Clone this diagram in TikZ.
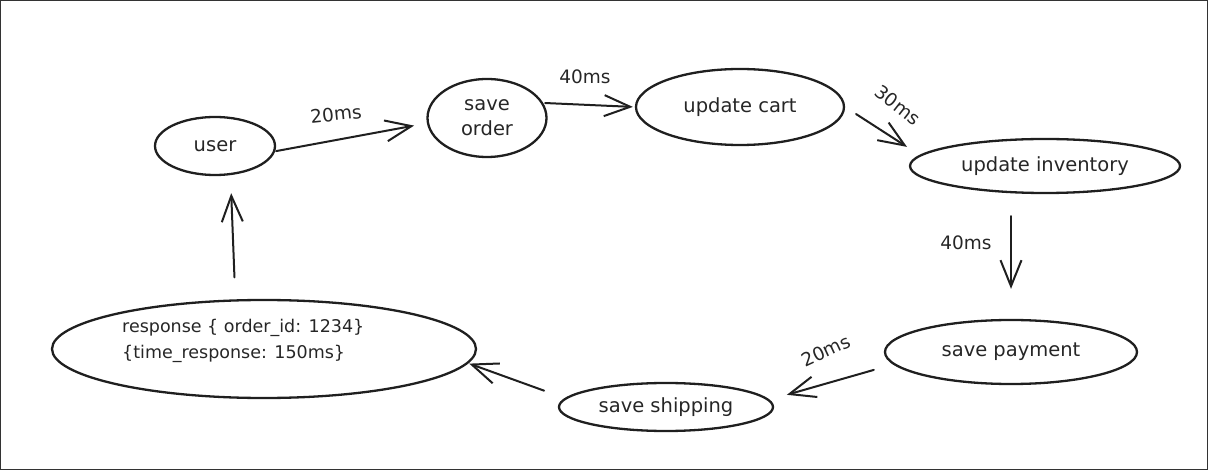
\documentclass[tikz,border=0pt]{standalone}
\usepackage{fontspec}
\setmainfont{DejaVu Sans}
\usetikzlibrary{shapes.geometric,arrows.meta}
\tikzset{
  stage/.style={ellipse, draw=black!88, line width=2.3pt, inner sep=0pt, font=\fontsize{19.5}{22}\selectfont, text=black!85},
  flow/.style={draw=black!88, line width=2pt, line cap=round, -{Straight Barb[length=26pt,width=21pt,line width=2pt]}},
  lat/.style={font=\fontsize{18.5}{20}\selectfont, text=black!85, inner sep=0pt}
}
\begin{document}
\begin{tikzpicture}[x=1pt,y=-1pt]
\useasboundingbox (0,0) rectangle (1208,470);
\draw[black!80, line width=1.2pt] (0.6,0.6) rectangle (1207.4,469.4);

\node[stage, minimum width=120pt, minimum height=58pt] (user) at (215,146) {user};
\node[stage, minimum width=119pt, minimum height=78pt, align=center, font=\fontsize{19.5}{25}\selectfont] (saveorder) at (487,118) {save\\order};
\node[stage, minimum width=208pt, minimum height=76pt] (updatecart) at (740,107) {update cart};
\node[stage, minimum width=270pt, minimum height=54pt] (updateinv) at (1045,166) {update inventory};
\node[stage, minimum width=252pt, minimum height=64pt] (savepayment) at (1011,352) {save payment};
\node[stage, minimum width=214pt, minimum height=48pt] (saveshipping) at (666,407) {save shipping};
\node[stage, minimum width=424pt, minimum height=98pt] (response) at (264,349) {};
\node[font=\fontsize{17.5}{26}\selectfont, text=black!85, align=left, anchor=west, inner sep=0pt] (resptext) at (122,341) {response \{ order\_id: 1234\}\\\{time\_response: 150ms\}};

\draw[flow, shorten <=1pt, shorten >=13pt] (user.-5) -- (saveorder.185);
\draw[flow, shorten <=2pt, shorten >=2pt] (saveorder.15) -- (updatecart.180);
\draw[flow, shorten <=13pt, shorten >=15pt] (updatecart.0) -- (updateinv.175);
\draw[flow, shorten <=22pt, shorten >=30pt] (savepayment.north |- updateinv.south) -- (savepayment.north);
\draw[flow, shorten <=20pt, shorten >=18pt] (savepayment.186) -- (saveshipping.4);
\draw[flow, shorten <=22pt, shorten >=1pt] (saveshipping.175) -- (response.-4);
\draw[flow, shorten <=22pt, shorten >=18pt] (response.120) -- (user.-62);

\node[lat, rotate=6] (l1) at (336,114) {20ms};
\node[lat] (l2) at (585,77) {40ms};
\node[lat, rotate=-38] (l3) at (898,105) {30ms};
\node[lat] (l4) at (966,243) {40ms};
\node[lat, rotate=25] (l5) at (826,351) {20ms};
\end{tikzpicture}
\end{document}
